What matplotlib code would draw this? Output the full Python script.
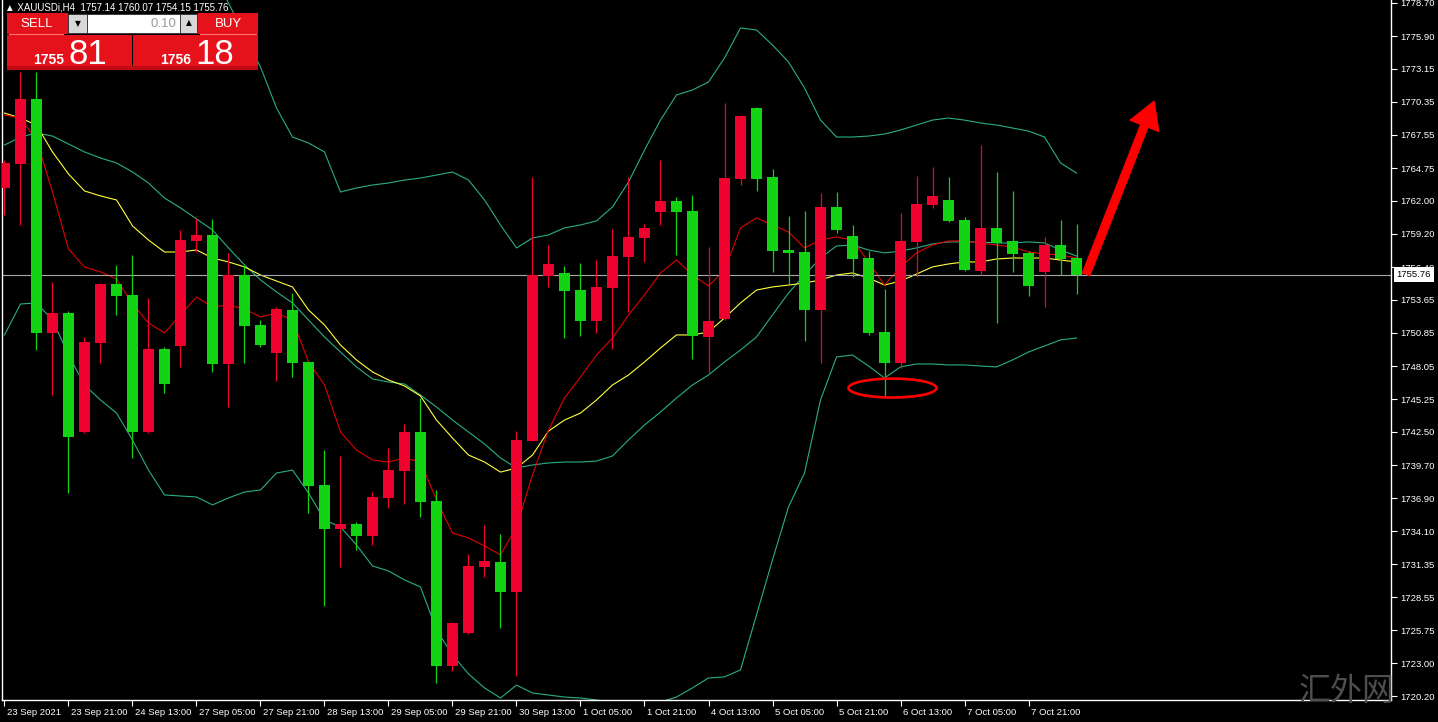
import matplotlib
matplotlib.use("Agg")
import matplotlib.pyplot as plt
import matplotlib.transforms as mtransforms
from matplotlib.patches import Rectangle, Ellipse, FancyArrowPatch
import numpy as np

plt.rcParams['font.family'] = ['Liberation Sans', 'DejaVu Sans']

# ---------------- data (XAUUSDi, H4) ----------------
time_labels = ["23 Sep 2021", "23 Sep 21:00", "24 Sep 13:00", "27 Sep 05:00", "27 Sep 21:00",
               "28 Sep 13:00", "29 Sep 05:00", "29 Sep 21:00", "30 Sep 13:00", "1 Oct 05:00",
               "1 Oct 21:00", "4 Oct 13:00", "5 Oct 05:00", "5 Oct 21:00", "6 Oct 13:00",
               "7 Oct 05:00", "7 Oct 21:00"]

opens = [1763.08, 1765.10, 1770.59, 1750.85, 1752.53, 1742.49, 1750.00, 1754.98, 1754.05, 1742.49,
         1749.50, 1749.75, 1758.61, 1759.11, 1748.23, 1755.74, 1751.52, 1749.16, 1752.79, 1748.40,
         1738.02, 1734.31, 1734.73, 1733.72, 1736.93, 1739.20, 1742.49, 1736.67, 1722.75, 1725.54,
         1731.10, 1731.53, 1728.99, 1741.74, 1755.66, 1755.91, 1754.47, 1751.86, 1754.64, 1757.26,
         1758.86, 1761.05, 1761.98, 1761.14, 1750.51, 1752.03, 1763.84, 1769.83, 1764.01, 1757.85,
         1757.68, 1752.79, 1761.48, 1759.03, 1757.17, 1750.93, 1748.32, 1758.52, 1761.64, 1762.07,
         1760.38, 1756.08, 1759.70, 1758.61, 1757.60, 1755.99, 1758.27, 1757.14]
highs = [1765.44, 1772.87, 1772.87, 1755.15, 1752.70, 1750.51, 1755.10, 1756.58, 1757.43, 1753.80,
         1749.67, 1759.54, 1760.55, 1760.46, 1757.60, 1756.58, 1751.94, 1753.04, 1754.22, 1748.45,
         1740.98, 1740.47, 1734.90, 1737.43, 1741.14, 1743.17, 1745.36, 1737.60, 1726.45, 1732.20,
         1734.65, 1733.89, 1742.58, 1764.01, 1758.27, 1756.50, 1756.75, 1757.00, 1759.62, 1764.01,
         1760.04, 1765.44, 1762.32, 1762.49, 1758.10, 1770.25, 1769.20, 1769.91, 1764.68, 1760.72,
         1761.14, 1762.66, 1762.74, 1759.96, 1757.76, 1754.56, 1760.97, 1764.09, 1764.85, 1764.01,
         1760.63, 1766.71, 1764.43, 1762.83, 1757.76, 1758.95, 1760.38, 1760.07]
lows = [1760.80, 1759.96, 1749.41, 1745.62, 1737.35, 1742.40, 1748.32, 1752.37, 1740.30, 1742.40,
        1745.78, 1747.98, 1757.68, 1747.56, 1744.60, 1748.32, 1749.67, 1746.80, 1747.13, 1735.66,
        1727.81, 1731.10, 1732.54, 1732.96, 1736.08, 1736.42, 1735.32, 1721.32, 1722.33, 1725.45,
        1730.26, 1725.96, 1721.91, 1741.70, 1754.73, 1750.42, 1750.59, 1750.85, 1749.50, 1752.62,
        1756.84, 1759.96, 1757.43, 1748.65, 1747.47, 1751.95, 1763.33, 1762.83, 1755.99, 1754.98,
        1750.17, 1748.32, 1759.28, 1755.57, 1750.68, 1745.45, 1747.89, 1755.57, 1761.39, 1760.25,
        1756.10, 1755.74, 1751.69, 1755.99, 1753.97, 1753.04, 1755.74, 1754.15]
closes = [1765.19, 1770.59, 1750.85, 1752.53, 1742.07, 1750.09, 1754.98, 1753.97, 1742.49, 1749.50,
          1746.54, 1758.69, 1759.11, 1748.23, 1755.74, 1751.44, 1749.83, 1752.87, 1748.32, 1737.94,
          1734.31, 1734.73, 1733.72, 1737.01, 1739.29, 1742.49, 1736.59, 1722.75, 1726.38, 1731.19,
          1731.61, 1728.99, 1741.82, 1755.74, 1756.67, 1754.39, 1751.86, 1754.73, 1757.34, 1758.95,
          1759.70, 1761.98, 1761.05, 1750.59, 1751.86, 1763.92, 1769.15, 1763.84, 1757.76, 1757.60,
          1752.79, 1761.48, 1759.54, 1757.09, 1750.85, 1748.32, 1758.61, 1761.73, 1762.40, 1760.30,
          1756.16, 1759.70, 1758.44, 1757.51, 1754.81, 1758.27, 1757.09, 1755.76]

bb_upper = [1786.50, 1787.80, 1789.00, 1789.50, 1789.80, 1789.60, 1789.00, 1788.30, 1787.80, 1787.00,
            1786.00, 1785.00, 1783.60, 1781.20, 1778.69, 1775.99, 1773.29, 1769.83, 1767.38, 1766.88,
            1766.12, 1762.74, 1763.08, 1763.33, 1763.50, 1763.75, 1763.92, 1764.17, 1764.43, 1763.75,
            1762.07, 1759.96, 1758.02, 1758.86, 1759.12, 1759.71, 1759.96, 1760.30, 1761.48, 1763.58,
            1766.28, 1768.81, 1770.93, 1771.35, 1772.02, 1774.05, 1776.58, 1776.41, 1775.14, 1773.71,
            1771.52, 1768.81, 1767.38, 1767.38, 1767.46, 1767.63, 1767.97, 1768.39, 1768.81, 1768.98,
            1768.81, 1768.56, 1768.39, 1768.14, 1767.88, 1767.38, 1765.19, 1764.34]
bb_middle = [1766.70, 1767.38, 1767.72, 1767.46, 1766.79, 1766.12, 1765.61, 1765.19, 1764.43, 1763.50,
             1762.23, 1761.40, 1760.47, 1759.54, 1758.02, 1756.59, 1755.32, 1754.31, 1753.38, 1751.94,
             1750.51, 1749.24, 1747.98, 1746.97, 1746.71, 1746.54, 1745.61, 1744.60, 1743.50, 1742.49,
             1741.48, 1740.30, 1739.45, 1739.71, 1739.88, 1739.96, 1739.96, 1740.04, 1740.47, 1741.82,
             1743.08, 1744.18, 1745.36, 1746.46, 1747.30, 1748.40, 1749.41, 1750.51, 1752.37, 1754.22,
             1755.74, 1757.17, 1758.19, 1758.27, 1757.85, 1757.60, 1757.76, 1758.02, 1758.36, 1758.53,
             1758.53, 1758.53, 1758.44, 1758.44, 1758.53, 1758.44, 1757.85, 1757.34]
bb_lower = [1750.68, 1753.29, 1753.38, 1751.94, 1748.99, 1746.46, 1745.19, 1744.09, 1741.82, 1739.28,
            1737.18, 1737.09, 1737.01, 1736.34, 1736.93, 1737.43, 1737.60, 1739.03, 1739.28, 1737.35,
            1735.07, 1734.48, 1732.96, 1731.19, 1730.77, 1730.01, 1729.42, 1725.79, 1723.68, 1722.08,
            1720.90, 1720.05, 1721.14, 1720.47, 1720.30, 1720.13, 1720.05, 1719.88, 1719.71, 1719.63,
            1719.63, 1719.71, 1720.13, 1720.90, 1721.74, 1721.83, 1722.42, 1727.05, 1731.70, 1736.17,
            1739.03, 1745.19, 1748.82, 1748.99, 1748.06, 1747.05, 1747.98, 1748.23, 1748.23, 1748.15,
            1748.15, 1748.06, 1747.98, 1748.57, 1749.24, 1749.75, 1750.26, 1750.42]
ma_yellow = [1769.40, 1768.98, 1768.39, 1766.12, 1764.26, 1762.83, 1762.41, 1762.07, 1759.88, 1758.69,
             1757.68, 1757.68, 1757.85, 1757.17, 1756.84, 1756.42, 1755.74, 1755.23, 1754.73, 1752.79,
             1751.52, 1749.83, 1748.57, 1747.56, 1746.88, 1746.38, 1745.53, 1743.50, 1741.98, 1740.55,
             1739.96, 1739.11, 1739.45, 1740.55, 1742.57, 1743.50, 1744.09, 1745.19, 1746.46, 1747.30,
             1748.40, 1749.58, 1750.68, 1750.68, 1750.93, 1752.11, 1753.38, 1754.47, 1754.73, 1754.89,
             1755.06, 1755.32, 1755.74, 1755.91, 1755.49, 1754.89, 1755.23, 1755.82, 1756.42, 1756.67,
             1756.84, 1756.84, 1757.09, 1757.17, 1757.17, 1757.17, 1757.00, 1756.84]
ma_red = [1769.23, 1768.98, 1767.13, 1762.74, 1757.93, 1756.42, 1756.00, 1755.40, 1753.29, 1751.69,
          1750.85, 1752.37, 1753.88, 1753.04, 1753.21, 1752.87, 1752.20, 1752.53, 1751.94, 1748.40,
          1746.46, 1742.49, 1740.97, 1740.13, 1739.96, 1740.30, 1739.96, 1736.76, 1733.97, 1733.55,
          1732.88, 1732.12, 1734.48, 1738.87, 1742.66, 1745.36, 1747.13, 1748.99, 1750.42, 1752.37,
          1754.05, 1755.91, 1757.00, 1755.74, 1754.81, 1756.16, 1759.71, 1760.55, 1759.96, 1759.37,
          1758.02, 1758.69, 1758.95, 1758.69, 1756.84, 1754.89, 1756.42, 1757.60, 1758.27, 1758.61,
          1758.61, 1758.44, 1758.27, 1758.10, 1757.68, 1757.51, 1757.43, 1757.17]

price_ticks = [1778.70, 1775.90, 1773.15, 1770.35, 1767.55, 1764.75, 1762.00, 1759.20, 1756.40,
               1753.65, 1750.85, 1748.05, 1745.25, 1742.50, 1739.70, 1736.90, 1734.10, 1731.35,
               1728.55, 1725.75, 1723.00, 1720.20]
last_price = 1755.76
sell_price = 1755.81
buy_price = 1756.18
lot_size = "0.10"
symbol = "XAUUSDi,H4"

# highlighted low and projected move
ellipse_center = (55.5, 1746.2)
arrow_from = (67.6, 1755.8)
arrow_to = (71.85, 1770.4)

# ---------------- styling ----------------
BULL = '#f0002c'
BEAR = '#12d412'
BAND = '#2aae84'
W, H = 1438, 722

fig = plt.figure(figsize=(W / 100, H / 100), dpi=100, facecolor='black')
ax = fig.add_axes([2 / W, 22 / H, 1389 / W, 700 / H])
ax.set_facecolor('black')

x = np.arange(len(opens))
o = np.array(opens); h = np.array(highs); l = np.array(lows); c = np.array(closes)
cols = np.where(c >= o, BULL, BEAR)

ax.plot(x, bb_upper, color=BAND, lw=0.8, zorder=2)
ax.plot(x, bb_middle, color=BAND, lw=0.8, zorder=2)
ax.plot(x, bb_lower, color=BAND, lw=0.8, zorder=2)
ax.plot(x, ma_yellow, color='#ffff3c', lw=0.8, zorder=2)
ax.plot(x, ma_red, color='#e00000', lw=0.8, zorder=2)

ax.vlines(x, l, h, colors=cols, lw=0.9, zorder=3)
body_bottom = np.minimum(o, c)
body_h = np.maximum(np.abs(c - o), 0.09)
ax.bar(x, body_h, bottom=body_bottom, width=0.69, color=cols, edgecolor='none', zorder=4)

ax.axhline(last_price, color='#a8a8a8', lw=0.8, zorder=2.5)

ax.add_patch(Ellipse(ellipse_center, 5.5, 1.6, fill=False, edgecolor='#ff0000', lw=1.9, zorder=6))
ax.add_patch(FancyArrowPatch(posA=arrow_from, posB=arrow_to,
                             arrowstyle='simple,head_length=0.95,head_width=1.1,tail_width=0.28',
                             mutation_scale=20, color='#ff0000', shrinkA=0, shrinkB=0, zorder=6))

ax.set_xlim(-0.156, 86.656)
ax.set_ylim(1719.88, 1778.94)

# axes / ticks
for side in ['left', 'bottom', 'right']:
    ax.spines[side].set_color('white')
    ax.spines[side].set_linewidth(1)
ax.spines['top'].set_visible(False)

ax.set_xticks(x[::4][:len(time_labels)])
ax.set_xticklabels(time_labels, ha='left', fontsize=6.8, color='white')
ax.tick_params(axis='x', direction='out', length=4, color='white', pad=1.5)
offset = mtransforms.ScaledTranslation(1.5 / 72, 0, fig.dpi_scale_trans)
for lab in ax.get_xticklabels():
    lab.set_transform(lab.get_transform() + offset)

ax.yaxis.tick_right()
ax.set_yticks(price_ticks)
ax.set_yticklabels([f"{v:.2f}" for v in price_ticks], fontsize=6.8, color='white')
ax.tick_params(axis='y', direction='out', length=4, color='white', pad=2.5)

btrans = mtransforms.blended_transform_factory(ax.transAxes, ax.transData)
ax.text(1.0, last_price, f"{last_price:.2f}",
        transform=btrans + mtransforms.ScaledTranslation(4 / 72, 0, fig.dpi_scale_trans),
        ha='left', va='center', fontsize=6.8, color='black', clip_on=False, zorder=20,
        bbox=dict(boxstyle='square,pad=0.3', fc='white', ec='none'))

# ---------------- overlay (trade panel, header, watermark) ----------------
ov = fig.add_axes([0, 0, 1, 1])
ov.set_xlim(0, W)
ov.set_ylim(H, 0)
ov.axis('off')
ov.patch.set_alpha(0)

header = "\u25b2 " + symbol + "  " + " ".join(f"{v:.2f}" for v in [opens[-1], highs[-1], lows[-1], closes[-1]])
ov.text(5, 7, header, fontsize=7, color='white', va='center', ha='left',
        family=['Liberation Sans', 'DejaVu Sans'])

RED = '#e5121b'
ov.add_patch(Rectangle((7, 13), 61, 21, fc=RED, ec='none'))
ov.add_patch(Rectangle((198, 13), 60, 21, fc=RED, ec='none'))
ov.add_patch(Rectangle((7, 35), 125, 35, fc=RED, ec='none'))
ov.add_patch(Rectangle((133, 35), 125, 35, fc=RED, ec='none'))
ov.add_patch(Rectangle((7, 66), 251, 4, fc='#c20a12', ec='none'))
ov.add_patch(Rectangle((68, 14), 19, 19, fc='#d8d8d8', ec='#303030', lw=0.6))
ov.add_patch(Rectangle((87, 14), 93, 19, fc='white', ec='#303030', lw=0.6))
ov.add_patch(Rectangle((180, 14), 17, 19, fc='#d8d8d8', ec='#303030', lw=0.6))
ov.plot([9, 63], [34, 34], color='#ff7070', lw=0.8)
ov.plot([200, 256], [34, 34], color='#ff7070', lw=0.8)

ov.text(77.5, 23.5, "\u25bc", fontsize=5.5, color='black', ha='center', va='center', family=['DejaVu Sans'])
ov.text(188.5, 23, "\u25b2", fontsize=5.5, color='black', ha='center', va='center', family=['DejaVu Sans'])
ov.text(176, 24, lot_size, fontsize=9.5, color='#9a9a9a', ha='right', va='center')
ov.text(37, 24, "SELL", fontsize=9.5, color='white', ha='center', va='center')
ov.text(228, 24, "BUY", fontsize=9.5, color='white', ha='center', va='center')

sell_big, sell_small = f"{sell_price:.2f}".split(".")
buy_big, buy_small = f"{buy_price:.2f}".split(".")
ov.text(64, 64, sell_big, fontsize=10, fontweight='bold', color='white', ha='right', va='baseline')
ov.text(68, 64, sell_small, fontsize=25, color='white', ha='left', va='baseline')
ov.text(191, 64, buy_big, fontsize=10, fontweight='bold', color='white', ha='right', va='baseline')
ov.text(195, 64, buy_small, fontsize=25, color='white', ha='left', va='baseline')

ov.text(1347, 691, "汇外网", fontsize=23, color='#4e4e4e', ha='center', va='center',
        family=['Noto Sans CJK SC', 'DejaVu Sans'], zorder=30)

fig.savefig('out.png', dpi=100, facecolor='black')
